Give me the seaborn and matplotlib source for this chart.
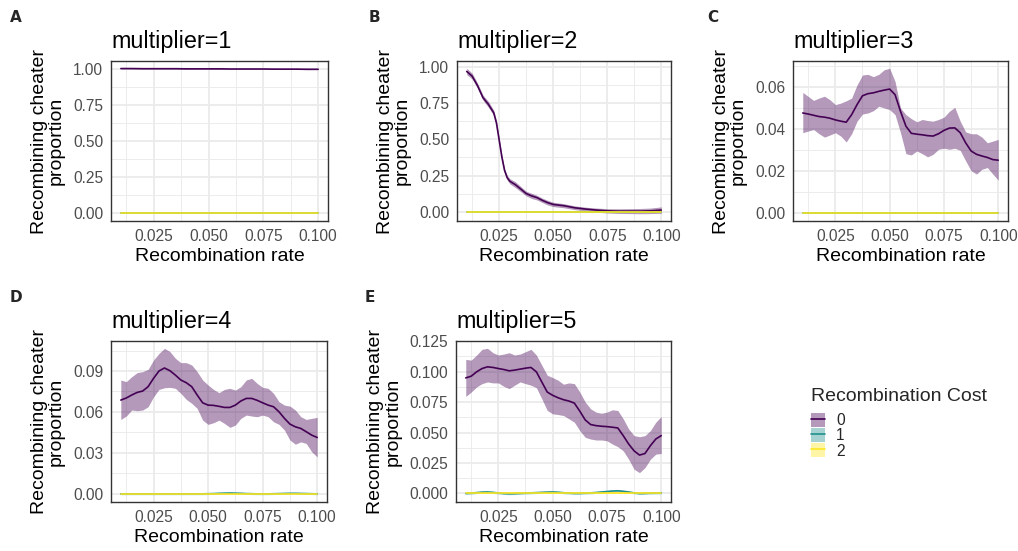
import numpy as np
import pandas as pd
import matplotlib
matplotlib.use("Agg")
import matplotlib.pyplot as plt
import seaborn as sns
from matplotlib.patches import Patch
from matplotlib.lines import Line2D
from matplotlib.legend_handler import HandlerTuple
from matplotlib.ticker import FixedLocator, FormatStrFormatter

# ---------------- data ----------------
rate = [0.010, 0.015, 0.020, 0.025, 0.030, 0.035, 0.040, 0.045, 0.050, 0.055,
        0.060, 0.065, 0.070, 0.075, 0.080, 0.085, 0.090, 0.095, 0.100]
rate_b = [0.010, 0.0125, 0.015, 0.0175, 0.020, 0.0225, 0.02375, 0.025, 0.02625, 0.0275,
          0.02875, 0.030, 0.0325, 0.035, 0.0375, 0.040, 0.0425, 0.045, 0.0475, 0.050,
          0.055, 0.060, 0.065, 0.070, 0.075, 0.080, 0.085, 0.090, 0.095, 0.100]
rate_fine = [0.0100, 0.0125, 0.0150, 0.0175, 0.0200, 0.0225, 0.0250, 0.0275, 0.0300, 0.0325,
             0.0350, 0.0375, 0.0400, 0.0425, 0.0450, 0.0475, 0.0500, 0.0525, 0.0550, 0.0575,
             0.0600, 0.0625, 0.0650, 0.0675, 0.0700, 0.0725, 0.0750, 0.0775, 0.0800, 0.0825,
             0.0850, 0.0875, 0.0900, 0.0925, 0.0950, 0.0975, 0.1000]

costs = [0, 1, 2]
cost_colors = ["#440154", "#21908C", "#FDE725"]
titles = ["multiplier=1", "multiplier=2", "multiplier=3", "multiplier=4", "multiplier=5"]
panel_letters = ["A", "B", "C", "D", "E"]

# multiplier = 1
a_c0 = [1.000, 1.000, 0.999, 0.999, 0.999, 0.999, 0.998, 0.998, 0.998, 0.998,
        0.997, 0.997, 0.997, 0.997, 0.996, 0.996, 0.996, 0.995, 0.995]
a_c0_lo = [0.998, 0.998, 0.997, 0.997, 0.997, 0.997, 0.996, 0.996, 0.996, 0.996,
           0.995, 0.995, 0.995, 0.995, 0.994, 0.994, 0.994, 0.993, 0.993]
a_c0_hi = [1.002, 1.002, 1.001, 1.001, 1.001, 1.001, 1.000, 1.000, 1.000, 1.000,
           0.999, 0.999, 0.999, 0.999, 0.998, 0.998, 0.998, 0.997, 0.997]
a_c1 = [0.0] * 19
a_c2 = [0.0] * 19

# multiplier = 2
b_c0 = [0.967, 0.935, 0.869, 0.787, 0.741, 0.682, 0.612, 0.495, 0.378, 0.285,
        0.234, 0.210, 0.187, 0.157, 0.126, 0.110, 0.098, 0.079, 0.063, 0.051,
        0.042, 0.028, 0.019, 0.012, 0.007, 0.005, 0.005, 0.005, 0.007, 0.012]
b_c0_lo = [0.945, 0.915, 0.851, 0.769, 0.721, 0.664, 0.596, 0.480, 0.363, 0.270,
           0.218, 0.192, 0.167, 0.139, 0.110, 0.092, 0.082, 0.064, 0.047, 0.036,
           0.028, 0.015, 0.006, -0.002, -0.008, -0.011, -0.012, -0.013, -0.012, -0.010]
b_c0_hi = [0.989, 0.955, 0.887, 0.805, 0.761, 0.700, 0.628, 0.510, 0.393, 0.300,
           0.250, 0.228, 0.207, 0.175, 0.142, 0.128, 0.114, 0.094, 0.079, 0.066,
           0.056, 0.041, 0.032, 0.026, 0.022, 0.021, 0.022, 0.023, 0.026, 0.034]
b_c1 = [0.0] * 30
b_c2 = [0.0] * 30

# multiplier = 3
c_c0 = [0.0477, 0.0472, 0.0466, 0.0460, 0.0457, 0.0452, 0.0444, 0.0438, 0.0433, 0.0469,
        0.0517, 0.0559, 0.0569, 0.0573, 0.0580, 0.0586, 0.0591, 0.0564, 0.0485, 0.0414,
        0.0380, 0.0376, 0.0373, 0.0369, 0.0367, 0.0378, 0.0394, 0.0405, 0.0406, 0.0383,
        0.0335, 0.0296, 0.0280, 0.0272, 0.0265, 0.0255, 0.0252]
c_c0_lo = [0.0383, 0.0391, 0.0398, 0.0378, 0.0362, 0.0372, 0.0383, 0.0367, 0.0339, 0.0378,
           0.0438, 0.0472, 0.0477, 0.0488, 0.0509, 0.0501, 0.0493, 0.0469, 0.0383, 0.0283,
           0.0277, 0.0296, 0.0283, 0.0268, 0.0280, 0.0304, 0.0309, 0.0304, 0.0309, 0.0299,
           0.0249, 0.0202, 0.0186, 0.0209, 0.0217, 0.0186, 0.0157]
c_c0_hi = [0.0575, 0.0556, 0.0537, 0.0548, 0.0557, 0.0540, 0.0517, 0.0524, 0.0535, 0.0548,
           0.0611, 0.0658, 0.0661, 0.0650, 0.0661, 0.0683, 0.0690, 0.0627, 0.0501, 0.0469,
           0.0450, 0.0435, 0.0446, 0.0441, 0.0438, 0.0446, 0.0457, 0.0485, 0.0504, 0.0438,
           0.0387, 0.0378, 0.0378, 0.0362, 0.0335, 0.0343, 0.0351]
c_c1 = [0.0] * 37
c_c2 = [0.0] * 37

# multiplier = 4
d_c0 = [0.0687, 0.0702, 0.0724, 0.0743, 0.0753, 0.0785, 0.0846, 0.0900, 0.0922, 0.0902,
        0.0870, 0.0834, 0.0814, 0.0785, 0.0724, 0.0667, 0.0650, 0.0648, 0.0641, 0.0633,
        0.0633, 0.0650, 0.0680, 0.0699, 0.0699, 0.0685, 0.0667, 0.0650, 0.0638, 0.0601,
        0.0553, 0.0511, 0.0491, 0.0479, 0.0455, 0.0430, 0.0413]
d_c0_lo = [0.0545, 0.0570, 0.0614, 0.0609, 0.0614, 0.0638, 0.0711, 0.0765, 0.0777, 0.0780,
           0.0773, 0.0736, 0.0692, 0.0663, 0.0626, 0.0540, 0.0509, 0.0521, 0.0540, 0.0516,
           0.0487, 0.0504, 0.0553, 0.0577, 0.0570, 0.0565, 0.0577, 0.0565, 0.0528, 0.0509,
           0.0467, 0.0394, 0.0364, 0.0381, 0.0369, 0.0308, 0.0271]
d_c0_hi = [0.0834, 0.0822, 0.0858, 0.0888, 0.0895, 0.0912, 0.0980, 0.1029, 0.1066, 0.1042,
           0.0993, 0.0961, 0.0961, 0.0944, 0.0895, 0.0834, 0.0797, 0.0765, 0.0741, 0.0765,
           0.0773, 0.0760, 0.0785, 0.0834, 0.0846, 0.0809, 0.0780, 0.0773, 0.0736, 0.0675,
           0.0650, 0.0643, 0.0614, 0.0565, 0.0545, 0.0553, 0.0560]
d_c1 = [0.0, 0.0, 0.0, 0.0, 0.0, 0.0, 0.0, 0.0, 0.0, 0.0,
        0.0, 0.0, 0.0, 0.0, 0.0, 0.0, 0.0001, 0.0002, 0.0004, 0.0005,
        0.0006, 0.0005, 0.0004, 0.0002, 0.0001, 0.0, 0.0, 0.0, 0.0001, 0.0002,
        0.0003, 0.0004, 0.0004, 0.0003, 0.0002, 0.0001, 0.0]
d_c2 = [0.0] * 37

# multiplier = 5
e_c0 = [0.0949, 0.0963, 0.0999, 0.1026, 0.1040, 0.1035, 0.1026, 0.1018, 0.1007, 0.1013,
        0.1021, 0.1029, 0.1035, 0.0999, 0.0916, 0.0833, 0.0806, 0.0786, 0.0770, 0.0759,
        0.0742, 0.0676, 0.0604, 0.0566, 0.0557, 0.0552, 0.0549, 0.0544, 0.0538, 0.0475,
        0.0406, 0.0350, 0.0315, 0.0328, 0.0392, 0.0447, 0.0475]
e_c0_lo = [0.0797, 0.0833, 0.0875, 0.0902, 0.0916, 0.0908, 0.0908, 0.0880, 0.0861, 0.0889,
           0.0916, 0.0902, 0.0889, 0.0869, 0.0778, 0.0682, 0.0654, 0.0648, 0.0640, 0.0613,
           0.0585, 0.0516, 0.0461, 0.0447, 0.0439, 0.0439, 0.0433, 0.0406, 0.0384, 0.0350,
           0.0281, 0.0199, 0.0171, 0.0212, 0.0281, 0.0323, 0.0328]
e_c0_hi = [0.1101, 0.1095, 0.1137, 0.1184, 0.1192, 0.1156, 0.1137, 0.1145, 0.1156, 0.1137,
           0.1145, 0.1164, 0.1184, 0.1137, 0.1054, 0.0971, 0.0952, 0.0930, 0.0897, 0.0908,
           0.0902, 0.0833, 0.0751, 0.0695, 0.0668, 0.0659, 0.0668, 0.0687, 0.0682, 0.0613,
           0.0530, 0.0475, 0.0466, 0.0475, 0.0516, 0.0585, 0.0632]
e_c1 = [0.0000, 0.0003, 0.0007, 0.0011, 0.0012, 0.0009, 0.0004, 0.0000, -0.0002, -0.0001,
        0.0001, 0.0003, 0.0005, 0.0007, 0.0009, 0.0011, 0.0012, 0.0010, 0.0006, 0.0003,
        0.0001, 0.0001, 0.0003, 0.0005, 0.0008, 0.0012, 0.0016, 0.0020, 0.0022, 0.0018,
        0.0012, 0.0005, 0.0000, 0.0001, 0.0003, 0.0004, 0.0005]
e_c2 = [0.0] * 37

panel_specs = [
    (rate, a_c0, a_c0_lo, a_c0_hi, a_c1, a_c2, [0, 0.25, 0.5, 0.75, 1.0], "%.2f", 0.002),
    (rate_b, b_c0, b_c0_lo, b_c0_hi, b_c1, b_c2, [0, 0.25, 0.5, 0.75, 1.0], "%.2f", 0.006),
    (rate_fine, c_c0, c_c0_lo, c_c0_hi, c_c1, c_c2, [0, 0.02, 0.04, 0.06], "%.2f", 0.0003),
    (rate_fine, d_c0, d_c0_lo, d_c0_hi, d_c1, d_c2, [0, 0.03, 0.06, 0.09], "%.2f", 0.0006),
    (rate_fine, e_c0, e_c0_lo, e_c0_hi, e_c1, e_c2, [0, 0.025, 0.05, 0.075, 0.1, 0.125], "%.3f", 0.0008),
]

# ---------------- style ----------------
sns.set_style("white")
plt.rcParams["font.family"] = ["Liberation Sans", "DejaVu Sans"]

W, H = 1018, 551
fig = plt.figure(figsize=(W / 100, H / 100), dpi=100)

# axes boxes in pixels: left, top, right, bottom
boxes = [(111, 61, 328, 221), (457, 61, 671, 221), (793, 61, 1008, 221),
         (111, 341, 327, 502), (456, 341, 671, 502)]
letter_pos = [(10, 18), (369, 18), (707, 18), (10, 298), (365, 298)]

for i, (xs, c0, c0lo, c0hi, c1, c2, yticks, fmt, band) in enumerate(panel_specs):
    l, t, r, b = boxes[i]
    ax = fig.add_axes([l / W, 1 - b / H, (r - l) / W, (b - t) / H])
    ax.set_axisbelow(True)

    frames = []
    for cost, m, lo, hi in [
        (0, c0, c0lo, c0hi),
        (1, c1, [v - band for v in c1], [v + band for v in c1]),
        (2, c2, [v - band for v in c2], [v + band for v in c2]),
    ]:
        frames.append(pd.DataFrame({"rate": xs, "prop": m, "lo": lo, "hi": hi, "cost": cost}))
    df = pd.concat(frames, ignore_index=True)

    for cost, col in zip(costs, cost_colors):
        sub = df[df["cost"] == cost]
        ax.fill_between(sub["rate"], sub["lo"], sub["hi"], color=col, alpha=0.4, lw=0)
    sns.lineplot(data=df, x="rate", y="prop", hue="cost", hue_order=costs,
                 palette=cost_colors, lw=1.2, legend=False, errorbar=None, ax=ax)

    ymin = min(df["lo"].min(), 0)
    ymax = df["hi"].max()
    pad = 0.05 * (ymax - ymin)
    ax.set_ylim(ymin - pad, ymax + pad)
    ax.set_xlim(0.01 - 0.0045, 0.1 + 0.0045)

    ax.xaxis.set_major_locator(FixedLocator([0.025, 0.05, 0.075, 0.1]))
    ax.xaxis.set_minor_locator(FixedLocator([0.0125, 0.0375, 0.0625, 0.0875]))
    ax.xaxis.set_major_formatter(FormatStrFormatter("%.3f"))
    ax.yaxis.set_major_locator(FixedLocator(yticks))
    step = yticks[1] - yticks[0]
    minors = [v + step / 2 for v in yticks]
    ax.yaxis.set_minor_locator(FixedLocator([m for m in minors if m < ymax + pad]))
    ax.yaxis.set_major_formatter(FormatStrFormatter(fmt))

    ax.grid(which="major", color="#EBEBEB", lw=1.3)
    ax.grid(which="minor", color="#EBEBEB", lw=0.65)
    ax.tick_params(which="major", length=3.5, width=1.0, color="#333333",
                   labelsize=11.2, labelcolor="#4D4D4D", pad=2)
    ax.tick_params(which="minor", length=0)
    for s in ax.spines.values():
        s.set_color("#333333")
        s.set_linewidth(1.0)

    ax.set_xlabel("Recombination rate", fontsize=14, labelpad=3, color="black")
    ax.set_ylabel("Recombining cheater\nproportion", fontsize=14, labelpad=6,
                  color="black", linespacing=1.0)
    ax.set_title(titles[i], loc="left", fontsize=16.8, pad=9.5, color="black")

    lx, ly = letter_pos[i]
    fig.text(lx / W, 1 - ly / H, panel_letters[i], fontsize=11, fontweight="bold",
             family="DejaVu Sans", ha="left", va="center")

handles = [(Patch(facecolor=c, alpha=0.4, edgecolor="none"), Line2D([], [], color=c, lw=1.2))
           for c in cost_colors]
leg = fig.legend(handles=handles, labels=[str(c) for c in costs],
                 handler_map={tuple: HandlerTuple(ndivide=1, pad=0)},
                 title="Recombination Cost", title_fontsize=14, fontsize=11.2,
                 loc="upper left", bbox_to_anchor=(811 / W, 1 - 388 / H),
                 frameon=False, handlelength=0.9, handleheight=0.95, labelspacing=0.0,
                 handletextpad=0.7, borderpad=0, borderaxespad=0, alignment="left")
leg._legend_box.sep = 6

fig.savefig("out.png", dpi=100)
